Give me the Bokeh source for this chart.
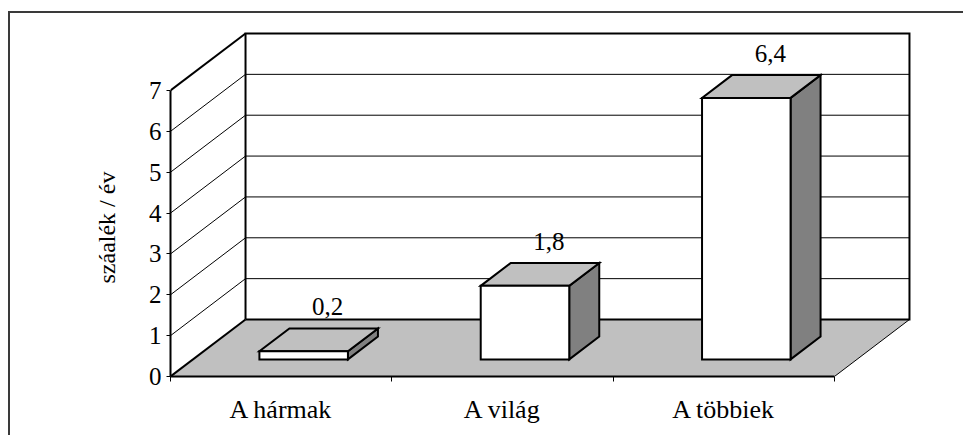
from bokeh.plotting import figure
from bokeh.models import FixedTicker, Title, Range1d
from bokeh.embed import file_html
from bokeh.resources import INLINE

# ---- data ----
categories = ["A hármak", "A világ", "A többiek"]
values = [0.2, 1.8, 6.4]
value_labels = ["0,2", "1,8", "6,4"]
y_ticks = [0, 1, 2, 3, 4, 5, 6, 7]
y_title = "száalék / év"

# ---- 3D projection / style constants ----
Y_MAX = 7
N = len(categories)
DX = 0.339      # depth offset in x data units
DY = 1.395      # depth offset in y data units
BAR_HALF = 0.2
D_FRONT = 0.3
D_BACK = 0.7
FONT = "Liberation Serif"
FS = "25px"
GRAY_TOP = "#C0C0C0"
GRAY_SIDE = "#808080"

p = figure(width=955, height=424,
           x_range=Range1d(0, 3.434), y_range=Range1d(0, 8.713),
           output_backend="svg", toolbar_location=None,
           min_border_left=160, min_border_right=35,
           min_border_top=7, min_border_bottom=61)
p.outline_line_color = None
p.grid.visible = False
p.background_fill_color = "white"
p.border_fill_color = "white"
p.styles = {"border-top": "2px solid #3a3a3a", "border-left": "2px solid #3a3a3a",
            "margin-top": "11px", "margin-left": "8px"}

# floor
p.patch([0, N, N + DX, DX], [0, 0, DY, DY], fill_color=GRAY_TOP, line_color=None)
# back wall
p.patch([DX, N + DX, N + DX, DX], [DY, DY, Y_MAX + DY, Y_MAX + DY],
        fill_color="white", line_color=None)
# left wall
p.patch([0, DX, DX, 0], [0, DY, Y_MAX + DY, Y_MAX], fill_color="white", line_color=None)

# gridlines
for k in y_ticks[1:-1]:
    p.line([DX, N + DX], [k + DY, k + DY], line_color="black", line_width=1)
    p.line([0, DX], [k, k + DY], line_color="black", line_width=1)

# thick edges
p.line([DX, DX, N + DX, N + DX, DX], [DY, Y_MAX + DY, Y_MAX + DY, DY, DY],
       line_color="black", line_width=2, line_join="miter")
p.line([0, DX], [Y_MAX, Y_MAX + DY], line_color="black", line_width=2)
p.line([0, DX], [0, DY], line_color="black", line_width=2)
p.line([N, N + DX], [0, DY], line_color="black", line_width=1)

# bars
for i, v in enumerate(values):
    c = i + 0.5
    x0, x1 = c - BAR_HALF, c + BAR_HALF
    fx, fy = D_FRONT * DX, D_FRONT * DY
    bx, by = D_BACK * DX, D_BACK * DY
    common = dict(line_color="black", line_width=2, line_join="miter")
    p.patch([x1 + fx, x1 + bx, x1 + bx, x1 + fx], [fy, by, v + by, v + fy],
            fill_color=GRAY_SIDE, **common)
    p.patch([x0 + fx, x1 + fx, x1 + bx, x0 + bx], [v + fy, v + fy, v + by, v + by],
            fill_color=GRAY_TOP, **common)
    p.patch([x0 + fx, x1 + fx, x1 + fx, x0 + fx], [fy, fy, v + fy, v + fy],
            fill_color="white", **common)

p.text(x=[i + 0.5 + D_BACK * DX for i in range(N)],
       y=[v + D_BACK * DY for v in values],
       text=value_labels, x_offset=-6, y_offset=-22,
       text_align="center", text_baseline="alphabetic",
       text_font=FONT, text_font_size=FS, text_color="black")

# x axis
xa = p.xaxis[0]
xa.ticker = FixedTicker(ticks=[i + 0.5 for i in range(N)],
                        minor_ticks=list(range(N + 1)))
xa.major_label_overrides = {i + 0.5: cat for i, cat in enumerate(categories)}
xa.bounds = (0, N)
xa.axis_line_width = 2
xa.axis_line_color = "black"
xa.major_tick_line_color = None
xa.major_tick_out = 0
xa.major_tick_in = 0
xa.minor_tick_line_color = "black"
xa.minor_tick_out = 5
xa.minor_tick_in = 0
xa.major_label_standoff = 13
xa.major_label_text_font = FONT
xa.major_label_text_font_size = "26px"
xa.major_label_text_color = "black"

# y axis
ya = p.yaxis[0]
ya.ticker = FixedTicker(ticks=y_ticks)
ya.bounds = (0, Y_MAX)
ya.axis_line_width = 2
ya.axis_line_color = "black"
ya.major_tick_line_color = "black"
ya.major_tick_out = 4
ya.major_tick_in = 0
ya.minor_tick_line_color = None
ya.major_label_standoff = 5
ya.major_label_text_font = FONT
ya.major_label_text_font_size = FS
ya.major_label_text_color = "black"

t = Title(text=y_title, align="left", offset=93, standoff=52,
          text_font=FONT, text_font_size="24px", text_font_style="normal",
          text_color="black")
p.add_layout(t, "left")

open("out.html", "w").write(file_html(p, INLINE))
